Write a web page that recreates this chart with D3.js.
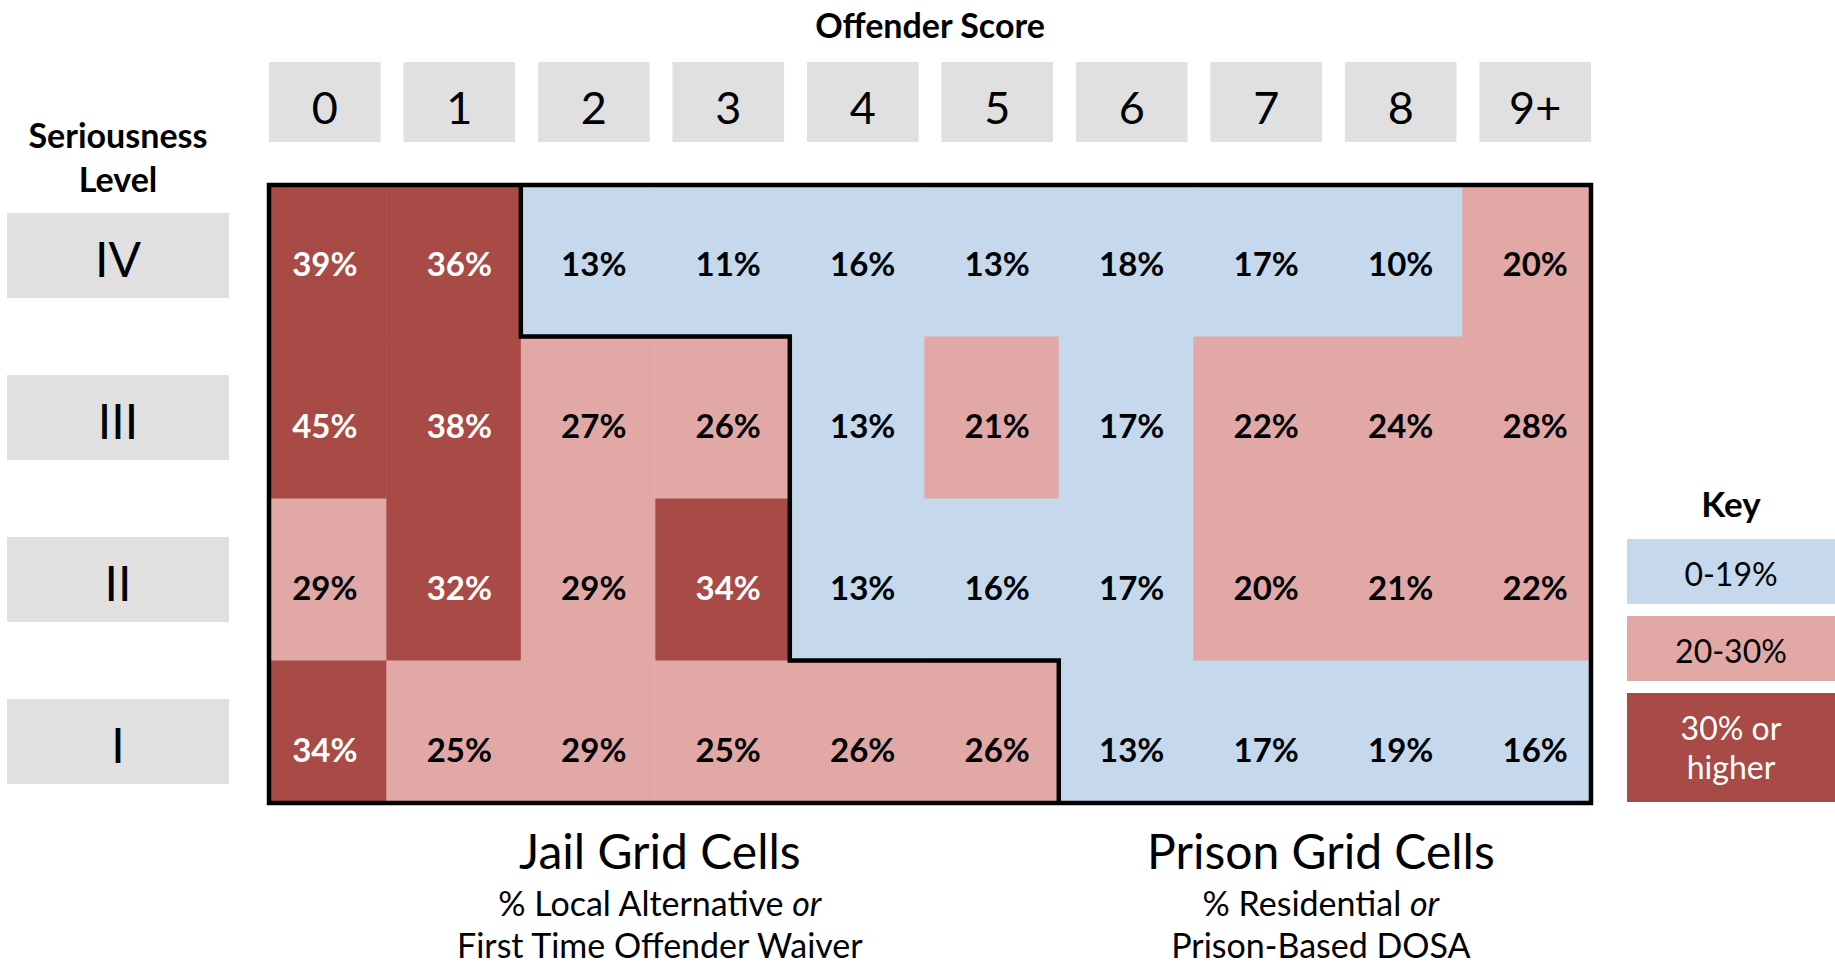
<!DOCTYPE html>
<html>
<head>
<meta charset="utf-8">
<script src="https://cdn.jsdelivr.net/npm/d3@7"></script>
<style>
  body { margin: 0; background: #fff; }
  svg text { font-family: Lato, "Open Sans", sans-serif; fill: #000; }
</style>
</head>
<body>
<svg id="grid"></svg>
<script>
// offender score columns and seriousness level rows
const offenderScores = ['0', '1', '2', '3', '4', '5', '6', '7', '8', '9+'];
const seriousnessLevels = ['IV', 'III', 'II', 'I'];

// percent per cell, one array per seriousness level
const pctIV  = [39, 36, 13, 11, 16, 13, 18, 17, 10, 20];
const pctIII = [45, 38, 27, 26, 13, 21, 17, 22, 24, 28];
const pctII  = [29, 32, 29, 34, 13, 16, 17, 20, 21, 22];
const pctI   = [34, 25, 29, 25, 26, 26, 13, 17, 19, 16];

// how many cells (from score 0) are jail cells on each level
const jailColumns = [2, 4, 4, 6];

const keyBreaks = [20, 30];
const keyLabels = [['0-19%'], ['20-30%'], ['30% or', 'higher']];

const width = 1835;
const height = 966;
const gridTop = 185;
const gridBottom = 803;

const svg = d3.select('svg#grid')
  .attr('width', width)
  .attr('height', height)
  .attr('viewBox', [0, 0, width, height]);

const x = d3.scaleBand()
  .domain(offenderScores)
  .range([269, 1591])
  .paddingInner(0.17);

const y = d3.scaleBand()
  .domain(seriousnessLevels)
  .range([213, 784])
  .paddingInner(0.475);

const color = d3.scaleThreshold()
  .domain(keyBreaks)
  .range(['#C5D8EC', '#E2A8A6', '#A84A45']);

const gap = x.step() - x.bandwidth();

// cell edges, taken from the header and row label bands
const colEdges = offenderScores.map((s, i) => i === 0 ? x.range()[0] : x(s) - gap * 0.75)
  .concat([x.range()[1]]);
const rowEdges = seriousnessLevels.map((l, i) => i === 0 ? gridTop
    : (y(seriousnessLevels[i - 1]) + y.bandwidth() + y(l)) / 2)
  .concat([gridBottom]);

const rows = [pctIV, pctIII, pctII, pctI];
const cells = [];
seriousnessLevels.forEach((level, r) => {
  offenderScores.forEach((score, c) => {
    cells.push({level, score, r, c, value: rows[r][c]});
  });
});

// titles
svg.append('text')
  .attr('x', (x.range()[0] + x.range()[1]) / 2)
  .attr('y', 38)
  .attr('text-anchor', 'middle')
  .style('font-size', '34px')
  .style('font-weight', 700)
  .text('Offender Score');

svg.append('text')
  .attr('x', 118)
  .attr('text-anchor', 'middle')
  .style('font-size', '34px')
  .style('font-weight', 700)
  .selectAll('tspan')
  .data(['Seriousness', 'Level'])
  .join('tspan')
  .attr('x', 118)
  .attr('y', (d, i) => 148 + i * 44)
  .text(d => d);

// column headers
const head = svg.append('g').selectAll('g').data(offenderScores).join('g');
head.append('rect')
  .attr('x', d => x(d))
  .attr('y', 62)
  .attr('width', x.bandwidth())
  .attr('height', 80)
  .attr('fill', '#E0E0E0');
head.append('text')
  .attr('x', d => x(d) + x.bandwidth() / 2)
  .attr('y', 124)
  .attr('text-anchor', 'middle')
  .style('font-size', '45px')
  .text(d => d);

// row headers
const side = svg.append('g').selectAll('g').data(seriousnessLevels).join('g');
side.append('rect')
  .attr('x', 7)
  .attr('y', d => y(d))
  .attr('width', 222)
  .attr('height', y.bandwidth())
  .attr('fill', '#E0E0E0');
side.append('text')
  .attr('x', 118)
  .attr('y', d => y(d) + 64)
  .attr('text-anchor', 'middle')
  .style('font-size', '48px')
  .text(d => d);

// cells
svg.append('g').selectAll('rect').data(cells).join('rect')
  .attr('x', d => colEdges[d.c])
  .attr('y', d => rowEdges[d.r])
  .attr('width', d => colEdges[d.c + 1] - colEdges[d.c] + 0.5)
  .attr('height', d => rowEdges[d.r + 1] - rowEdges[d.r] + 0.5)
  .attr('fill', d => color(d.value));

svg.append('g').selectAll('text').data(cells).join('text')
  .attr('x', d => x(d.score) + x.bandwidth() / 2)
  .attr('y', d => y(d.level) + 63)
  .attr('text-anchor', 'middle')
  .style('font-size', '33px')
  .style('font-weight', 700)
  .style('fill', d => d.value >= keyBreaks[1] ? '#fff' : '#000')
  .text(d => d.value + '%');

// jail / prison outlines
const nRows = seriousnessLevels.length;
const nCols = offenderScores.length;
const isJail = (r, c) => (r < 0 || r >= nRows || c < 0 || c >= nCols) ? null : c < jailColumns[r];
const outline = d3.path();
cells.forEach(d => {
  const j = isJail(d.r, d.c);
  const x0 = colEdges[d.c], x1 = colEdges[d.c + 1];
  const y0 = rowEdges[d.r], y1 = rowEdges[d.r + 1];
  if (isJail(d.r - 1, d.c) !== j) { outline.moveTo(x0, y0); outline.lineTo(x1, y0); }
  if (isJail(d.r + 1, d.c) !== j) { outline.moveTo(x0, y1); outline.lineTo(x1, y1); }
  if (isJail(d.r, d.c - 1) !== j) { outline.moveTo(x0, y0); outline.lineTo(x0, y1); }
  if (isJail(d.r, d.c + 1) !== j) { outline.moveTo(x1, y0); outline.lineTo(x1, y1); }
});
svg.append('path')
  .attr('d', outline.toString())
  .attr('fill', 'none')
  .attr('stroke', '#000')
  .attr('stroke-width', 4.5)
  .attr('stroke-linecap', 'square');

// captions under the grid
const lastRow = nRows - 1;
const captions = [
  {x0: colEdges[0], x1: colEdges[jailColumns[lastRow]], title: 'Jail Grid Cells',
    lines: [['% Local Alternative ', 'or'], ['First Time Offender Waiver', '']]},
  {x0: colEdges[jailColumns[lastRow]], x1: colEdges[nCols], title: 'Prison Grid Cells',
    lines: [['% Residential ', 'or'], ['Prison-Based DOSA', '']]}
];
captions.forEach(cap => {
  const cx = (cap.x0 + cap.x1) / 2 - 4;
  svg.append('text')
    .attr('x', cx)
    .attr('y', 869)
    .attr('text-anchor', 'middle')
    .style('font-size', '48px')
    .text(cap.title);
  cap.lines.forEach((ln, i) => {
    const t = svg.append('text')
      .attr('x', cx)
      .attr('y', 916 + i * 42)
      .attr('text-anchor', 'middle')
      .style('font-size', '34px');
    t.append('tspan').text(ln[0]);
    if (ln[1]) t.append('tspan').style('font-style', 'italic').text(ln[1]);
  });
});

// key
svg.append('text')
  .attr('x', 1731)
  .attr('y', 517)
  .attr('text-anchor', 'middle')
  .style('font-size', '35px')
  .style('font-weight', 700)
  .text('Key');

let keyTop = 539;
keyLabels.forEach((lines, i) => {
  const h = 65 + 44 * (lines.length - 1);
  const sample = i === 0 ? 0 : keyBreaks[i - 1];
  svg.append('rect')
    .attr('x', 1627)
    .attr('y', keyTop)
    .attr('width', 208)
    .attr('height', h)
    .attr('fill', color(sample));
  svg.append('text')
    .attr('text-anchor', 'middle')
    .style('font-size', '32px')
    .style('fill', sample >= keyBreaks[1] ? '#fff' : '#000')
    .selectAll('tspan')
    .data(lines)
    .join('tspan')
    .attr('x', 1731)
    .attr('y', (d, k) => keyTop + 47 + 39 * k)
    .text(d => d);
  keyTop += h + 12;
});
</script>
</body>
</html>
